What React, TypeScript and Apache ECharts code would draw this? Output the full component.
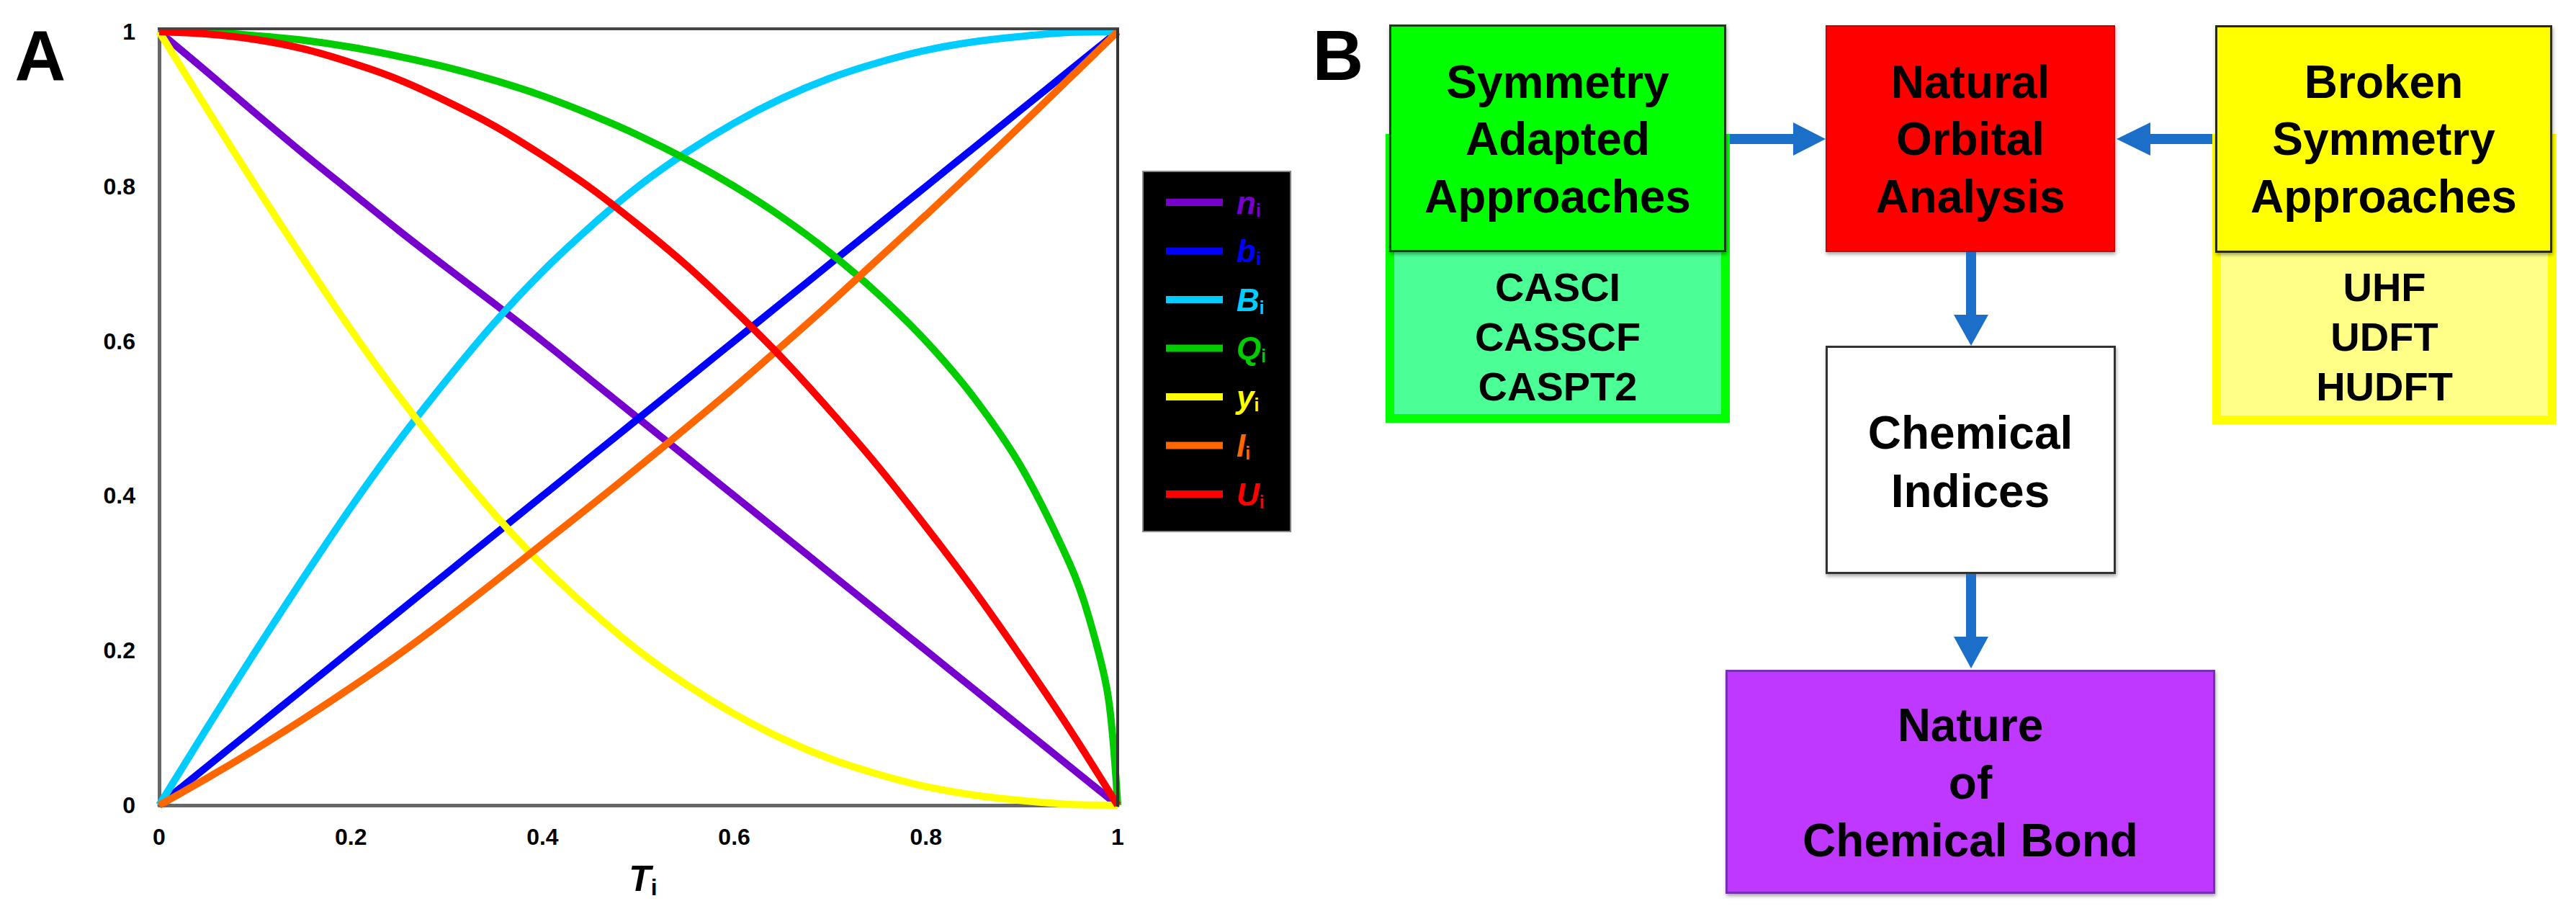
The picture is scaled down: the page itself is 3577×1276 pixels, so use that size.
import React, { useEffect, useRef } from "react";
import * as echarts from "echarts";

// ---------- Panel A data ----------
const T = [0, 0.05, 0.1, 0.15, 0.2, 0.25, 0.3, 0.35, 0.4, 0.45, 0.5, 0.55, 0.6, 0.65, 0.7, 0.75, 0.8, 0.85, 0.9, 0.95, 1];
const nValues = [1, 0.948, 0.895, 0.843, 0.793, 0.743, 0.695, 0.648, 0.6, 0.55, 0.5, 0.45, 0.4, 0.35, 0.3, 0.25, 0.2, 0.15, 0.1, 0.05, 0];
const bValues = [0, 0.05, 0.1, 0.15, 0.2, 0.25, 0.3, 0.35, 0.4, 0.45, 0.5, 0.55, 0.6, 0.65, 0.7, 0.75, 0.8, 0.85, 0.9, 0.95, 1];
const BValues = [0, 0.1, 0.198, 0.293, 0.385, 0.471, 0.55, 0.624, 0.69, 0.748, 0.8, 0.844, 0.882, 0.914, 0.94, 0.96, 0.976, 0.987, 0.994, 0.999, 1];
const QT = [0, 0.05, 0.1, 0.15, 0.2, 0.25, 0.3, 0.35, 0.4, 0.45, 0.5, 0.55, 0.6, 0.65, 0.7, 0.75, 0.8, 0.85, 0.9, 0.95, 0.97, 0.99, 1];
const QValues = [1, 0.999, 0.995, 0.989, 0.98, 0.968, 0.954, 0.937, 0.917, 0.893, 0.866, 0.835, 0.8, 0.76, 0.714, 0.661, 0.6, 0.527, 0.436, 0.312, 0.243, 0.141, 0];
const yValues = [1, 0.9, 0.802, 0.707, 0.615, 0.529, 0.45, 0.376, 0.31, 0.252, 0.2, 0.156, 0.118, 0.086, 0.06, 0.04, 0.024, 0.013, 0.006, 0.001, 0];
const IValues = [0, 0.035, 0.072, 0.111, 0.152, 0.195, 0.241, 0.289, 0.338, 0.387, 0.437, 0.488, 0.54, 0.594, 0.649, 0.706, 0.763, 0.821, 0.88, 0.94, 1];
const UValues = [1, 0.997, 0.99, 0.978, 0.96, 0.938, 0.91, 0.878, 0.84, 0.798, 0.75, 0.698, 0.64, 0.578, 0.51, 0.438, 0.36, 0.278, 0.19, 0.098, 0];

const seriesLetters = ["n", "b", "B", "Q", "y", "I", "U"];
const seriesColors = ["#7700CC", "#0000FF", "#00CCFF", "#00CC00", "#FFFF00", "#FF6600", "#FF0000"];
const xTickLabels = ["0", "0.2", "0.4", "0.6", "0.8", "1"];
const yTickLabels = ["0", "0.2", "0.4", "0.6", "0.8", "1"];
const xAxisTitle = "T";
const subscript = "i";

// ---------- Panel B texts ----------
const symAdaptedTitle = ["Symmetry", "Adapted", "Approaches"];
const symAdaptedMethods = ["CASCI", "CASSCF", "CASPT2"];
const naturalOrbital = ["Natural", "Orbital", "Analysis"];
const brokenTitle = ["Broken", "Symmetry", "Approaches"];
const brokenMethods = ["UHF", "UDFT", "HUDFT"];
const chemIndices = ["Chemical", "Indices"];
const natureBond = ["Nature", "of", "Chemical Bond"];

const FONT = '"Liberation Sans", Arial, Helvetica, sans-serif';
const ARROW = "#1B6FC8";

function pairs(xs: number[], ys: number[]) {
  return xs.map((x, i) => [x, ys[i]]);
}

function txt(text: string, x: number, y: number, size: number) {
  return {
    type: "text",
    x,
    y,
    z: 20,
    style: {
      text,
      fill: "#000",
      fontSize: size,
      fontWeight: "bold",
      fontFamily: FONT,
      align: "center",
      verticalAlign: "middle",
    },
  };
}

function rect(x: number, y: number, w: number, h: number, fill: string, stroke: string, lw: number, z = 10, shadow = false) {
  const style: any = { fill, stroke, lineWidth: lw };
  if (shadow) {
    style.shadowBlur = 5;
    style.shadowColor = "rgba(0,0,0,0.35)";
    style.shadowOffsetX = 1;
    style.shadowOffsetY = 3;
  }
  return {
    type: "rect",
    z,
    shape: { x, y, width: w, height: h },
    style,
  };
}

function poly(points: number[][]) {
  return { type: "polygon", z: 12, shape: { points }, style: { fill: ARROW } };
}

export default function App() {
  const ref = useRef<HTMLDivElement>(null);
  useEffect(() => {
    if (!ref.current) return;
    const chart = echarts.init(ref.current, null, { renderer: "svg" });

    const seriesData = [
      pairs(T, nValues),
      pairs(T, bValues),
      pairs(T, BValues),
      pairs(QT, QValues),
      pairs(T, yValues),
      pairs(T, IValues),
      pairs(T, UValues),
    ];

    const rich: any = {};
    seriesLetters.forEach((l, i) => {
      rich["m" + i] = {
        color: seriesColors[i],
        fontSize: 44,
        fontStyle: "italic",
        fontWeight: "bold",
        fontFamily: FONT,
        lineHeight: 46,
        padding: [0, 0, 0, 14],
      };
      rich["s" + i] = {
        color: seriesColors[i],
        fontSize: 25,
        fontWeight: "bold",
        fontFamily: FONT,
        lineHeight: 14,
        verticalAlign: "bottom",
      };
    });

    const graphic: any[] = [
      // Panel labels
      { type: "text", x: 56, y: 77, z: 20, style: { text: "A", fontSize: 98, fontWeight: "bold", fontFamily: FONT, fill: "#000", align: "center", verticalAlign: "middle" } },
      { type: "text", x: 1858, y: 77, z: 20, style: { text: "B", fontSize: 98, fontWeight: "bold", fontFamily: FONT, fill: "#000", align: "center", verticalAlign: "middle" } },
      // plot frame top/right
      { type: "line", z: 15, shape: { x1: 219, y1: 40, x2: 1554, y2: 40 }, style: { stroke: "#444", lineWidth: 4 } },
      { type: "line", z: 15, shape: { x1: 1552, y1: 40, x2: 1552, y2: 1120 }, style: { stroke: "#333", lineWidth: 4 } },
      // x-axis title
      {
        type: "text",
        x: 893,
        y: 1220,
        z: 20,
        style: {
          text: `{t|${xAxisTitle}}{s|${subscript}}`,
          align: "center",
          verticalAlign: "middle",
          rich: {
            t: { fontSize: 50, fontStyle: "italic", fontWeight: "bold", fontFamily: FONT, fill: "#000", lineHeight: 56 },
            s: { fontSize: 32, fontWeight: "bold", fontFamily: FONT, fill: "#000", lineHeight: 16, verticalAlign: "bottom" },
          },
        },
      },

      // Green lower box then upper box
      rect(1930, 192, 466, 389, "#4BFF96", "#00FF00", 12, 10),
      rect(1930.5, 35.5, 465, 313, "#00FF00", "#1E3A1E", 3, 11, true),
      // Yellow lower box then upper box
      rect(3078, 192, 466, 391, "#FFFF88", "#FFFF00", 12, 10),
      rect(3077.5, 36.5, 465, 313, "#FFFF00", "#2A2A10", 3, 11, true),
      // Red box
      rect(2536, 36, 400, 313, "#FF0000", "#D00000", 2, 11, true),
      // Chemical Indices box
      rect(2536.5, 481.5, 400, 314, "#FFFFFF", "#333333", 3, 11, true),
      // Purple box
      rect(2397.5, 931.5, 677, 308, "#BF37FF", "#7A2DB5", 3, 11, true),

      // Arrows
      poly([[2402, 186], [2490, 186], [2490, 170], [2535, 193], [2490, 216], [2490, 200], [2402, 200]]),
      poly([[3072, 186], [2986, 186], [2986, 170], [2939, 193], [2986, 216], [2986, 200], [3072, 200]]),
      poly([[2730, 350], [2744, 350], [2744, 437], [2761, 437], [2737, 480], [2713, 437], [2730, 437]]),
      poly([[2730, 797], [2744, 797], [2744, 884], [2761, 884], [2737, 928], [2713, 884], [2730, 884]]),
    ];

    const titleYs = [114, 193, 273];
    const methodYs = [398, 467, 536];
    symAdaptedTitle.forEach((t, i) => graphic.push(txt(t, 2163, titleYs[i], 64)));
    symAdaptedMethods.forEach((t, i) => graphic.push(txt(t, 2163, methodYs[i], 56)));
    naturalOrbital.forEach((t, i) => graphic.push(txt(t, 2736, titleYs[i], 64)));
    brokenTitle.forEach((t, i) => graphic.push(txt(t, 3310, titleYs[i], 64)));
    brokenMethods.forEach((t, i) => graphic.push(txt(t, 3311, methodYs[i], 56)));
    const chemYs = [601, 682];
    chemIndices.forEach((t, i) => graphic.push(txt(t, 2736, chemYs[i], 64)));
    const natYs = [1007, 1087, 1167];
    natureBond.forEach((t, i) => graphic.push(txt(t, 2736, natYs[i], 64)));

    const option: any = {
      animation: false,
      backgroundColor: "#fff",
      grid: { left: 221, top: 44, width: 1331, height: 1074, containLabel: false },
      xAxis: {
        type: "value",
        min: 0,
        max: 1,
        interval: 0.2,
        axisLine: { show: true, lineStyle: { color: "#666", width: 5 } },
        axisTick: { show: false },
        splitLine: { show: false },
        axisLabel: {
          margin: 28,
          fontSize: 32,
          fontWeight: "bold",
          fontFamily: FONT,
          color: "#000",
          formatter: (v: number) => xTickLabels[Math.round(v / 0.2)] ?? "",
        },
      },
      yAxis: {
        type: "value",
        min: 0,
        max: 1,
        interval: 0.2,
        axisLine: { show: true, lineStyle: { color: "#666", width: 5 } },
        axisTick: { show: false },
        splitLine: { show: false },
        axisLabel: {
          margin: 33,
          fontSize: 32,
          fontWeight: "bold",
          fontFamily: FONT,
          color: "#000",
          formatter: (v: number) => yTickLabels[Math.round(v / 0.2)] ?? "",
        },
      },
      legend: {
        orient: "vertical",
        left: 1587,
        top: 238,
        padding: [21, 34, 29, 32],
        itemGap: 22.5,
        itemWidth: 79,
        itemHeight: 10,
        icon: "rect",
        backgroundColor: "#000",
        borderColor: "#888",
        borderWidth: 2,
        selectedMode: false,
        data: seriesLetters,
        formatter: (name: string) => {
          const i = seriesLetters.indexOf(name);
          return `{m${i}|${name}}{s${i}|${subscript}}`;
        },
        textStyle: { rich },
      },
      graphic,
      series: seriesLetters.map((l, i) => ({
        name: l,
        type: "line",
        data: seriesData[i],
        showSymbol: false,
        symbol: "none",
        smooth: 0.3,
        clip: false,
        color: seriesColors[i],
        lineStyle: { color: seriesColors[i], width: 10 },
        z: 2 + i * 0.01,
      })),
    };

    chart.setOption(option);
    return () => chart.dispose();
  }, []);

  return (
    <div
      ref={ref}
      style={{ position: "absolute", left: 0, top: 0, width: 3577, height: 1276, background: "#fff" }}
    />
  );
}
